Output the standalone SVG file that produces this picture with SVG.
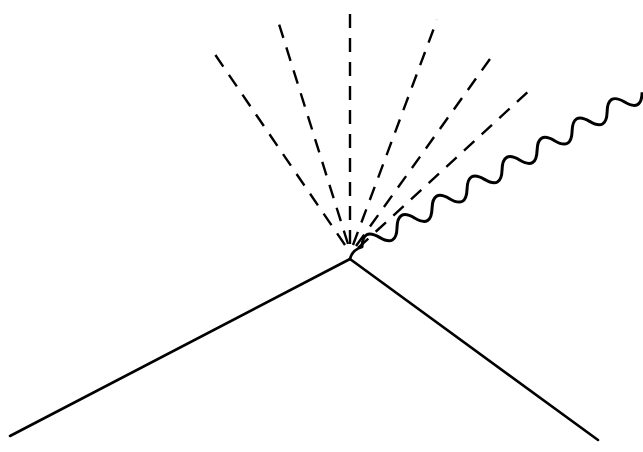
<svg xmlns="http://www.w3.org/2000/svg" width="643" height="452" viewBox="0 0 643 452">
<style>
.solid{stroke:#000;stroke-width:2.6;fill:none;stroke-linecap:round}
.dash{stroke:#000;stroke-width:2.4;fill:none;stroke-dasharray:14 10}
.wave{stroke:#000;stroke-width:3;fill:none}
</style>
<rect width="643" height="452" fill="#fff"/>
<g id="connectors">
<line class="solid" x1="350" y1="259" x2="10" y2="436"/>
<line class="solid" x1="350" y1="259" x2="598" y2="440"/>
<line class="dash" x1="345" y1="245" x2="212" y2="50"/>
<line class="dash" x1="348" y1="244" x2="279" y2="24"/>
<line class="dash" x1="350" y1="244" x2="350" y2="8"/>
<line class="dash" x1="353" y1="245" x2="437" y2="20"/>
<line class="dash" x1="356" y1="246" x2="495" y2="52"/>
<line class="dash" x1="358" y1="248" x2="532" y2="88"/>
<path class="wave" transform="translate(362,247) rotate(-28.9)" d="M0,0 q10,-17 20,0 t20,0 t20,0 t20,0 t20,0 t20,0 t20,0 t20,0 t20,0 t20,0 t20,0 t20,0 t20,0 t20,0 t20,0 t20,0"/>
<path class="solid" d="M350,259 Q352,250 362,247"/>
</g>
</svg>
